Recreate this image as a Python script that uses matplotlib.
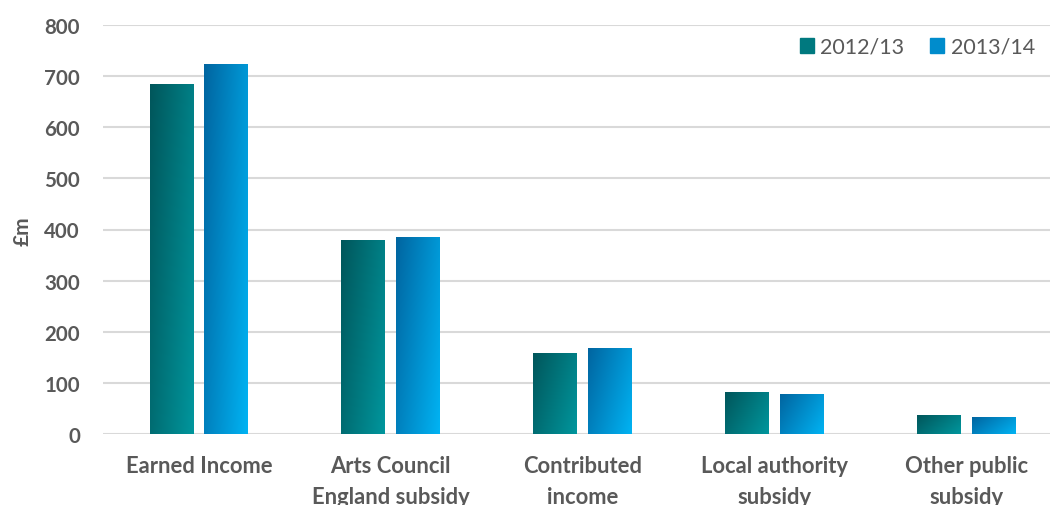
import numpy as np
import matplotlib.pyplot as plt
from matplotlib.colors import LinearSegmentedColormap
from matplotlib.patches import Rectangle

# -------------------------------------
#  Data (£m)
# -------------------------------------

categories = ["Earned Income", "Arts Council\nEngland subsidy", "Contributed\nincome",
              "Local authority\nsubsidy", "Other public\nsubsidy"]
years = ["2012/13", "2013/14"]
values_2012 = [683, 378, 157, 82, 37]
values_2013 = [722, 384, 168, 78, 33]

# dark (top-left) -> light (bottom-right) gradient per series
grad_2012 = ["#00565b", "#00969d"]
grad_2013 = ["#0065a0", "#00b3f3"]

TEXT = "#595959"
GRID = "#d9d9d9"
FONT = "Lato"


def gradient_bars(ax, xs, heights, width, colors):
    cmap = LinearSegmentedColormap.from_list("g", colors)
    u = np.linspace(0, 1, 64)
    uu, vv = np.meshgrid(u, u)  # vv: 0 top row -> 1 bottom row (origin upper)
    t = 0.65 * uu + 0.35 * vv
    for x, h in zip(xs, heights):
        ax.imshow(t, cmap=cmap, extent=(x - width / 2, x + width / 2, 0, h),
                  origin="upper", aspect="auto", interpolation="bilinear", zorder=3)
    return cmap


def main():
    fig = plt.figure(figsize=(10.5, 5.06), dpi=100)
    ax = fig.add_axes([103 / 1050, 71 / 506, 959 / 1050, 409 / 506])

    x = np.arange(len(categories))
    w = 0.229
    off = 0.143
    gradient_bars(ax, x - off, values_2012, w, grad_2012)
    gradient_bars(ax, x + off, values_2013, w, grad_2013)

    ax.set_xlim(-0.5, len(categories) - 0.5)
    ax.set_ylim(0, 800)
    ax.set_yticks(range(0, 801, 100))
    ax.set_xticks(x)
    ax.set_xticklabels(categories, linespacing=1.6)

    ax.grid(axis="y", color=GRID, linewidth=1.5, zorder=0)
    ax.set_axisbelow(True)
    for s in ax.spines.values():
        s.set_visible(False)
    ax.tick_params(axis="both", length=0)
    ax.tick_params(axis="y", pad=16.5)
    ax.tick_params(axis="x", pad=15)
    for lab in ax.get_xticklabels():
        lab.set_fontfamily(FONT)
        lab.set_fontweight("bold")
        lab.set_fontsize(15.8)
        lab.set_color(TEXT)
    for lab in ax.get_yticklabels():
        lab.set_fontfamily(FONT)
        lab.set_fontweight("bold")
        lab.set_fontsize(14.8)
        lab.set_color(TEXT)

    fig.text(23 / 1050, 1 - 231 / 506, "£m", rotation=90, ha="center", va="center",
             fontfamily=FONT, fontweight="bold", fontsize=15, color=TEXT)

    handles = [Rectangle((0, 0), 1, 1, color=c) for c in ("#00797f", "#008ccc")]
    leg = ax.legend(handles, years, loc="upper right", bbox_to_anchor=(1035 / 1050, 1 - 38 / 506),
                    bbox_transform=fig.transFigure, frameon=False, ncol=2,
                    handlelength=0.65, handleheight=0.65, handletextpad=0.3,
                    columnspacing=1.2, borderpad=0, borderaxespad=0,
                    prop={"family": FONT, "size": 15.5})
    for t in leg.get_texts():
        t.set_color(TEXT)

    fig.savefig("out.png", dpi=100)


if __name__ == "__main__":
    main()
